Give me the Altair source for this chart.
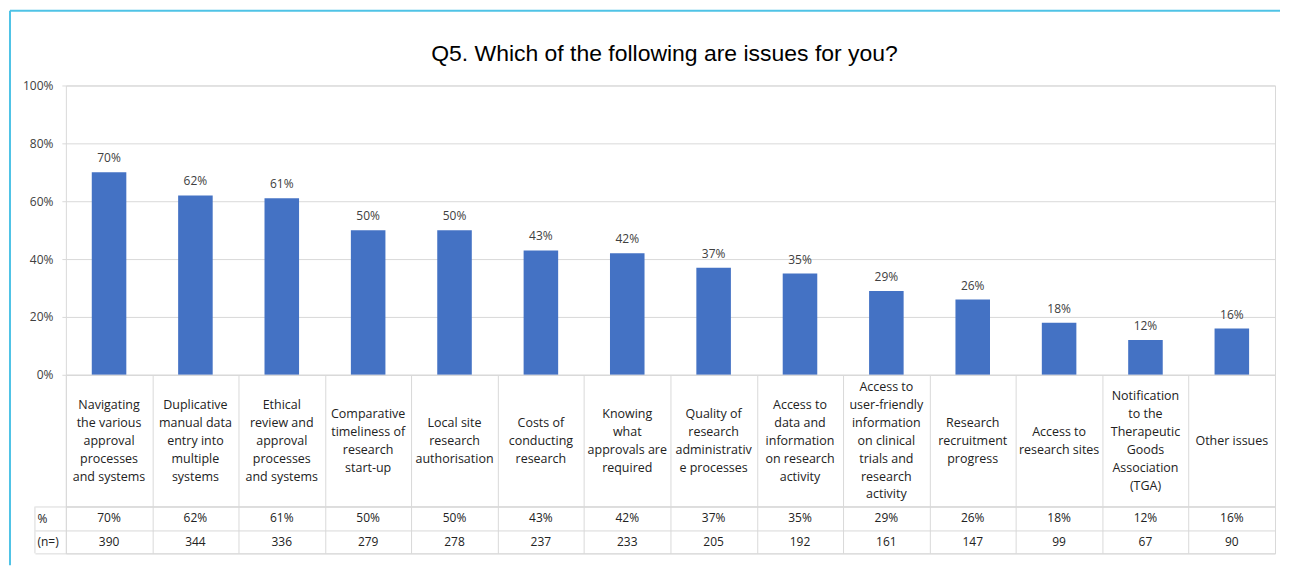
import altair as alt
import pandas as pd

categories = [
    "Navigating the various approval processes and systems",
    "Duplicative manual data entry into multiple systems",
    "Ethical review and approval processes and systems",
    "Comparative timeliness of research start-up",
    "Local site research authorisation",
    "Costs of conducting research",
    "Knowing what approvals are required",
    "Quality of research administrative processes",
    "Access to data and information on research activity",
    "Access to user-friendly information on clinical trials and research activity",
    "Research recruitment progress",
    "Access to research sites",
    "Notification to the Therapeutic Goods Association (TGA)",
    "Other issues",
]
label_lines = [
    "Navigating\nthe various\napproval\nprocesses\nand systems",
    "Duplicative\nmanual data\nentry into\nmultiple\nsystems",
    "Ethical\nreview and\napproval\nprocesses\nand systems",
    "Comparative\ntimeliness of\nresearch\nstart-up",
    "Local site\nresearch\nauthorisation",
    "Costs of\nconducting\nresearch",
    "Knowing\nwhat\napprovals are\nrequired",
    "Quality of\nresearch\nadministrativ\ne processes",
    "Access to\ndata and\ninformation\non research\nactivity",
    "Access to\nuser-friendly\ninformation\non clinical\ntrials and\nresearch\nactivity",
    "Research\nrecruitment\nprogress",
    "Access to\nresearch sites",
    "Notification\nto the\nTherapeutic\nGoods\nAssociation\n(TGA)",
    "Other issues",
]
pct = [70, 62, 61, 50, 50, 43, 42, 37, 35, 29, 26, 18, 12, 16]
n_resp = [390, 344, 336, 279, 278, 237, 233, 205, 192, 161, 147, 99, 67, 90]
row_names = ["%", "(n=)"]
y_ticks = [0, 20, 40, 60, 80, 100]
title_text = "Q5. Which of the following are issues for you?"

FONT = "Open Sans"
GRID = "#d9d9d9"
TXT = "#404040"
BLUE = "#4472C4"
FRAME = "#4fc3e6"

W = 1212
H_BAR = 290
H_CAT = 132
H_ROWS = 47
LINE_H = 18

df = pd.DataFrame({"cat": categories, "label": label_lines, "pct": pct, "n": n_resp})
df["pct_txt"] = df["pct"].astype(str) + "%"
df["ypos"] = [H_CAT / 2 - (s.count("\n")) * LINE_H / 2 for s in label_lines]

rows = []
for c, p, k in zip(categories, pct, n_resp):
    rows.append({"cat": c, "row": row_names[0], "val": f"{p}%"})
    rows.append({"cat": c, "row": row_names[1], "val": str(k)})
df_rows = pd.DataFrame(rows)
one = pd.DataFrame({"t": [title_text]})

xscale = alt.Scale(domain=categories, paddingInner=0, paddingOuter=0)
x_none = alt.X("cat:N", sort=categories, scale=xscale, axis=None)
x_grid = alt.X(
    "cat:N", sort=categories, scale=xscale, title=None,
    axis=alt.Axis(grid=True, tickBand="extent", labels=False, ticks=False,
                  domain=False, gridColor=GRID, gridWidth=1),
)

# ---- bar panel ----
base = alt.Chart(df)
yaxis = alt.Axis(values=y_ticks, labelExpr="datum.value + '%'", grid=True,
                 gridColor=GRID, tickColor=GRID, tickSize=4, labelPadding=9,
                 domain=False, labelFont=FONT, labelFontSize=12, labelColor=TXT)
bars = base.mark_bar(color=BLUE, width=alt.RelativeBandSize(0.4)).encode(
    x=x_none,
    y=alt.Y("pct:Q", scale=alt.Scale(domain=[0, 100], nice=False), axis=yaxis, title=None),
)
bar_labels = base.mark_text(baseline="bottom", dy=-7, font=FONT, fontSize=12, color=TXT).encode(
    x=x_none, y=alt.Y("pct:Q"), text="pct_txt:N"
)
title_mark = alt.Chart(one).mark_text(
    font="Liberation Sans", fontSize=23, color="#000000", align="center", baseline="alphabetic"
).encode(x=alt.value(W / 2 - 6), y=alt.value(-25), text="t:N")
frame_top = alt.Chart(one).mark_rule(color=FRAME, strokeWidth=2).encode(
    x=alt.value(-56), x2=alt.value(W + 5), y=alt.value(-75)
)
frame_left = alt.Chart(one).mark_rule(color=FRAME, strokeWidth=2).encode(
    x=alt.value(-56), y=alt.value(-75), y2=alt.value(H_BAR + H_CAT + H_ROWS + 12)
)
bar_panel = alt.layer(bars, bar_labels, title_mark, frame_top, frame_left).properties(
    width=W, height=H_BAR
)

# ---- category label row ----
cat_panel = alt.Chart(df).mark_text(
    lineBreak="\n", font=FONT, fontSize=12.5, lineHeight=LINE_H, baseline="middle", color="#222222"
).encode(
    x=x_grid, y=alt.Y("ypos:Q", scale=None, axis=None), text="label:N"
).properties(width=W, height=H_CAT)

# ---- % and n rows ----
yrows = alt.Y(
    "row:N", sort=row_names, scale=alt.Scale(domain=row_names, paddingInner=0, paddingOuter=0),
    title=None,
    axis=alt.Axis(tickBand="extent", grid=True, gridColor=GRID, tickColor=GRID, tickSize=31,
                  labelAlign="left", labelPadding=-2, domain=False, labelFont=FONT,
                  labelFontSize=12, labelColor="#222222"),
)
row_text = alt.Chart(df_rows).mark_text(font=FONT, fontSize=12, color="#222222").encode(
    x=x_grid, y=yrows, text="val:N"
)
row_left = alt.Chart(one).mark_rule(color=GRID).encode(
    x=alt.value(-31), y=alt.value(0), y2=alt.value(H_ROWS)
)
rows_panel = alt.layer(row_text, row_left).properties(width=W, height=H_ROWS)

chart = alt.vconcat(bar_panel, cat_panel, rows_panel, spacing=0, bounds="flush").properties(
    padding=0,
).configure_view(stroke=GRID, strokeWidth=1)

chart.save("out.html", embed_options={"renderer": "svg", "actions": False})
